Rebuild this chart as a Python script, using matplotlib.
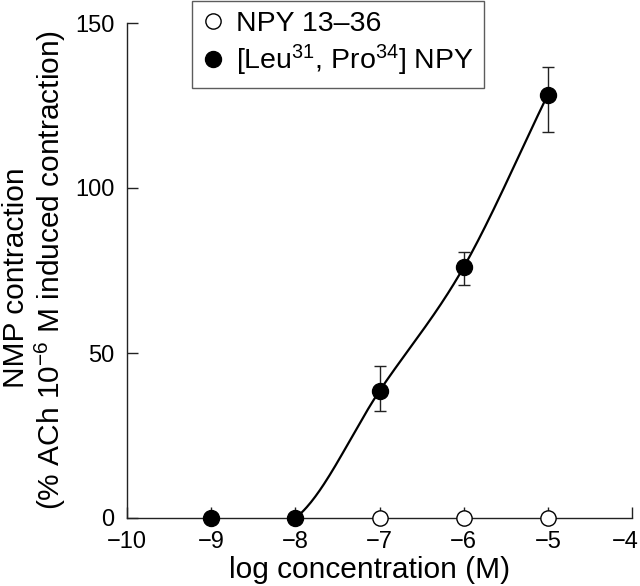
import numpy as np
import matplotlib
matplotlib.use("Agg")
import matplotlib.pyplot as plt
from matplotlib.transforms import ScaledTranslation

plt.rcParams['font.family'] = ['Liberation Sans', 'DejaVu Sans']
plt.rcParams['mathtext.fontset'] = 'custom'
plt.rcParams['mathtext.rm'] = 'Liberation Sans'
plt.rcParams['mathtext.it'] = 'Liberation Sans:italic'

# data
conc_open = [-7, -6, -5]
resp_open = [0, 0, 0]

conc_filled = [-9, -8, -7, -6, -5]
resp_filled = [0, 0, 38.5, 76, 128.3]
err_up = [0, 0, 7.5, 4.6, 8.4]
err_down = [0, 0, 6.1, 5.4, 11.2]

xticks = [-10, -9, -8, -7, -6, -5, -4]
yticks = [0, 50, 100, 150]


def hermite_curve(x, y, n=60):
    # smooth curve through the points, finite-difference tangents
    x = np.asarray(x, float)
    y = np.asarray(y, float)
    m = np.gradient(y, x)
    xs, ys = [], []
    for i in range(len(x) - 1):
        h = x[i + 1] - x[i]
        t = np.linspace(0, 1, n)
        h00 = 2*t**3 - 3*t**2 + 1
        h10 = t**3 - 2*t**2 + t
        h01 = -2*t**3 + 3*t**2
        h11 = t**3 - t**2
        xs.append(x[i] + t*h)
        ys.append(h00*y[i] + h10*h*m[i] + h01*y[i+1] + h11*h*m[i+1])
    return np.concatenate(xs), np.concatenate(ys)


fig = plt.figure(figsize=(6.4, 5.86), dpi=100)
ax = fig.add_axes([127/640, 1 - 518/586, 505/640, 495/586])

cx, cy = hermite_curve(conc_filled, resp_filled)
keep = cx >= -8
ax.plot(cx[keep], cy[keep], color='black', lw=1.6, zorder=3)

ax.errorbar(conc_filled[2:], resp_filled[2:],
            yerr=[err_down[2:], err_up[2:]],
            fmt='none', ecolor='#222222', elinewidth=1, capsize=4.5,
            capthick=1, zorder=2)

ax.plot(conc_open, resp_open, 'o', ms=11, mfc='white', mec='black',
        mew=1, clip_on=False, zorder=5, label='NPY 13–36')
ax.plot(conc_filled, resp_filled, 'o', ms=11.5, mfc='black', mec='black',
        clip_on=False, zorder=5, label='[Leu$^{31}$, Pro$^{34}$] NPY')

ax.set_xlim(-10, -4)
ax.set_ylim(0, 150)
ax.set_xticks(xticks)
ax.set_xticklabels([str(t).replace('-', '\u2212') for t in xticks])
ax.set_yticks(yticks)

for s in ['top', 'right']:
    ax.spines[s].set_visible(False)
for s in ['left', 'bottom']:
    ax.spines[s].set_linewidth(1)
    ax.spines[s].set_color('#222222')

ax.tick_params(direction='in', length=8, width=1, labelsize=17, pad=9,
               color='#222222')

# last x label sits against the right edge in the original
last = ax.get_xticklabels()[-1]
last.set_transform(last.get_transform() +
                   ScaledTranslation(-7/100, 0, fig.dpi_scale_trans))

fig.text(370/640, 1 - 578/586, 'log concentration (M)', fontsize=21.5,
         ha='center', va='baseline')
fig.text(16/640, 1 - 278/586, 'NMP contraction', fontsize=21.5,
         rotation=90, ha='center', va='center')
fig.text(50/640, 1 - 270/586, '(% ACh 10$^{\u22126}$ M induced contraction)',
         fontsize=21.5, rotation=90, ha='center', va='center')

leg = ax.legend(loc='upper left', bbox_to_anchor=(192/640, 1 - 1/586),
                bbox_transform=fig.transFigure, frameon=True, fancybox=False,
                edgecolor='#333333', fontsize=20.5, handletextpad=0.4,
                borderpad=0.35, handlelength=0.8, labelspacing=0.2,
                borderaxespad=0, handleheight=0.7)
leg.get_frame().set_linewidth(1)

fig.savefig('out.png', dpi=100)
